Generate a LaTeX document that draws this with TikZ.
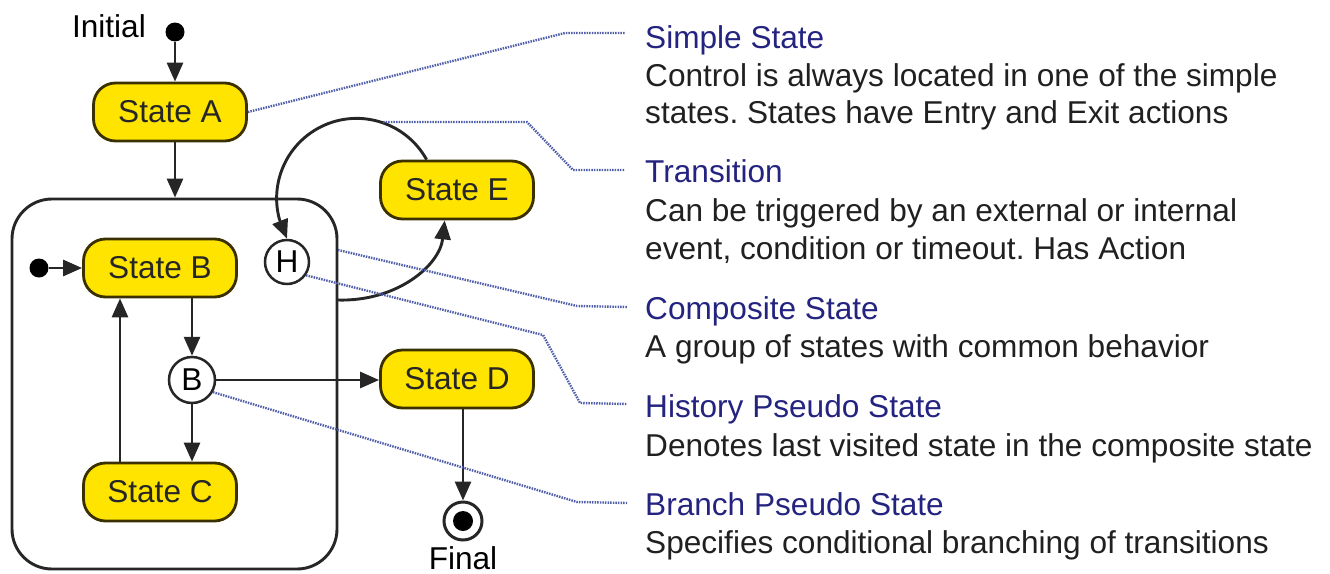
\documentclass[tikz,border=0pt]{standalone}
\usepackage{fontspec}
\setmainfont{Liberation Sans}
\usetikzlibrary{arrows.meta,calc}
\frenchspacing

\definecolor{stateyellow}{RGB}{255,228,0}
\definecolor{boxedge}{RGB}{58,48,0}
\definecolor{titleblue}{RGB}{36,36,128}
\definecolor{desctext}{RGB}{32,32,32}
\definecolor{noteline}{RGB}{80,94,170}

\tikzset{
  txt/.style={font=\fontsize{31.6}{37.5}\selectfont, inner sep=0pt},
  statebox/.style={txt, draw=boxedge, fill=stateyellow, line width=2.8pt,
    rounded corners=22pt, minimum width=153pt, minimum height=58pt,
    text=black!85},
  pseudo/.style={txt, circle, draw=black!85, line width=2.5pt, minimum size=44pt},
  startdot/.style={circle, fill=black, minimum size=19pt, inner sep=0pt},
  trans/.style={line width=2.9pt, draw=black!85,
    -{Triangle[length=19pt,width=16pt]}},
  noteconn/.style={noteline, line width=2.4pt, dash pattern=on 1.5pt off 1.1pt},
  title/.style={txt, text=titleblue, anchor=base west},
  desc/.style={txt, text=desctext, anchor=base west},
}

\begin{document}
\begin{tikzpicture}[x=1pt, y=-1pt]
  \useasboundingbox (0,0) rectangle (1330,573);

  % composite state frame
  \node[draw=black!85, line width=2.9pt, rounded corners=40pt,
        minimum width=325pt, minimum height=370pt, inner sep=0pt]
        (comp) at (174.5,384) {};

  % states
  \node[startdot] (init) at (175,32) {};
  \node[txt, anchor=base east] (initlbl) at (146,37) {Initial};
  \node[statebox] (A) at (170,112) {State A};
  \node[statebox] (E) at (457,190) {State E};
  \node[statebox] (B) at (160,268) {State B};
  \node[startdot] (subinit) at (39,268) {};
  \node[pseudo] (H) at (287,262) {H};
  \node[pseudo, minimum size=46pt] (Bc) at (192,380) {B};
  \node[statebox] (C) at (160,492) {State C};
  \node[statebox] (D) at (457,379) {State D};
  \node[circle, draw=black!85, line width=3pt, minimum size=38pt,
        inner sep=0pt] (fin) at (463,521) {};
  \node[circle, fill=black, minimum size=20pt, inner sep=0pt] (findot) at (fin) {};
  \node[txt, anchor=base] (finlbl) at (463,569) {Final};

  % transitions
  \draw[trans] (init) -- (init |- A.north);
  \draw[trans] (init |- A.south) -- (init |- comp.north);
  \draw[trans] (subinit) -- (B.west);
  \draw[trans] (Bc.north |- B.south) -- (Bc.north);
  \draw[trans] (Bc.south) -- (Bc.south |- C.north);
  \draw[trans] ($(C.north)+(-40,0)$) -- ($(B.south)+(-40,0)$);
  \draw[trans] (Bc.east) -- (Bc.east -| D.west);
  \draw[trans] (fin.north |- D.south) -- (fin.north);
  % E back into the history state
  \draw[trans] (E.135) arc[start angle=29, end angle=195, radius=80pt] -- (H.north);
  % leaving the composite state towards E
  \coordinate (cexit) at (337,300);
  \draw[trans] (cexit) .. controls +(60,2) and +(-5,45) .. (E.-112);

  % annotation leader lines
  \coordinate (looptop) at (383,122);
  \coordinate (compedge) at (338,250);
  \coordinate (n1a) at (565,33);   \coordinate (n1b) at (625,33);
  \coordinate (n2a) at (527,122);  \coordinate (n2b) at (573,170);
  \coordinate (n2c) at (625,170);
  \coordinate (n3a) at (577,306);  \coordinate (n3b) at (627,307);
  \coordinate (n4a) at (543,335);  \coordinate (n4b) at (580,403);
  \coordinate (n4c) at (627,404);
  \coordinate (n5a) at (577,502);  \coordinate (n5b) at (627,503);

  \draw[noteconn] (A.east) -- (n1a) -- (n1b);
  \draw[noteconn] (looptop) -- (n2a) -- (n2b) -- (n2c);
  \draw[noteconn] (compedge) -- (n3a) -- (n3b);
  \draw[noteconn] (H.-35) -- (n4a) -- (n4b) -- (n4c);
  \draw[noteconn] (Bc.-30) -- (n5a) -- (n5b);

  % annotation texts
  \node[title] (t1) at (645,48) {Simple State};
  \node[desc] (d1a) at (645,86) {Control is always located in one of the simple};
  \node[desc] (d1b) at (645,123) {states. States have Entry and Exit actions};
  \node[title] (t2) at (645,182) {Transition};
  \node[desc] (d2a) at (645,221) {Can be triggered by an external or internal};
  \node[desc] (d2b) at (645,259) {event, condition or timeout. Has Action};
  \node[title] (t3) at (645,319) {Composite State};
  \node[desc] (d3a) at (645,357) {A group of states with common behavior};
  \node[title] (t4) at (645,417) {History Pseudo State};
  \node[desc] (d4a) at (645,456) {Denotes last visited state in the composite state};
  \node[title] (t5) at (645,515) {Branch Pseudo State};
  \node[desc] (d5a) at (645,553) {Specifies conditional branching of transitions};
\end{tikzpicture}
\end{document}
